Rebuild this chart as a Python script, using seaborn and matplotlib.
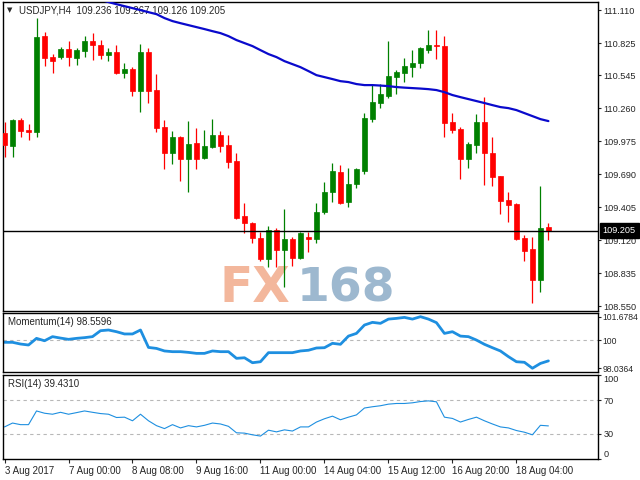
import numpy as np
import pandas as pd
import matplotlib
matplotlib.use("Agg")
import matplotlib.pyplot as plt
import seaborn as sns
from matplotlib.transforms import blended_transform_factory

# %% data (USDJPY H4 candles)
title_text = "USDJPY,H4  109.236 109.267 109.126 109.205"

opens = [110.047, 109.935, 110.160, 110.073, 110.056, 110.885, 110.704, 110.704, 110.773, 110.695,
         110.756, 110.842, 110.807, 110.721, 110.747, 110.566, 110.600, 110.410, 110.747, 110.419,
         110.099, 109.875, 110.013, 109.823, 109.961, 109.832, 109.927, 110.030, 109.944, 109.806,
         109.331, 109.270, 109.141, 108.959, 109.210, 109.037, 109.132, 108.968, 109.149, 109.132,
         109.365, 109.538, 109.711, 109.451, 109.607, 109.719, 110.168, 110.307, 110.367, 110.531,
         110.566, 110.617, 110.652, 110.764, 110.807, 110.799, 110.142, 110.082, 109.823, 109.944,
         110.142, 109.875, 109.676, 109.469, 109.434, 109.141, 109.046, 108.778, 109.236]
highs = [110.142, 110.168, 110.177, 110.125, 111.041, 110.920, 110.730, 110.790, 110.842, 110.781,
         110.885, 110.911, 110.851, 110.781, 110.807, 110.652, 110.617, 110.816, 110.781, 110.557,
         110.160, 110.065, 110.020, 110.151, 110.091, 110.073, 110.168, 110.065, 110.030, 109.875,
         109.443, 109.275, 109.192, 109.244, 109.227, 109.391, 109.149, 109.192, 109.192, 109.443,
         109.624, 109.788, 109.771, 109.745, 109.745, 110.220, 110.462, 110.471, 110.842, 110.591,
         110.695, 110.764, 110.790, 110.937, 110.937, 110.885, 110.220, 110.099, 109.970, 110.211,
         110.358, 110.013, 109.680, 109.538, 109.443, 109.167, 109.149, 109.590, 109.267]
lows = [109.840, 109.840, 110.013, 109.987, 110.013, 110.626, 110.566, 110.686, 110.626, 110.635,
        110.704, 110.678, 110.686, 110.669, 110.557, 110.522, 110.367, 110.229, 110.307, 110.056,
        109.737, 109.780, 109.633, 109.538, 109.737, 109.823, 109.920, 109.883, 109.745, 109.305,
        109.184, 109.098, 108.942, 108.891, 108.891, 108.717, 108.899, 108.959, 109.020, 109.098,
        109.348, 109.451, 109.434, 109.408, 109.572, 109.693, 110.142, 110.263, 110.350, 110.384,
        110.488, 110.531, 110.609, 110.738, 110.686, 110.013, 110.047, 109.650, 109.745, 109.875,
        109.598, 109.590, 109.348, 109.279, 109.123, 108.942, 108.579, 108.674, 109.126]
closes = [109.944, 110.160, 110.065, 110.056, 110.877, 110.695, 110.669, 110.773, 110.704, 110.764,
          110.842, 110.807, 110.721, 110.747, 110.566, 110.600, 110.410, 110.747, 110.410, 110.091,
          109.875, 110.013, 109.823, 109.952, 109.823, 109.935, 110.030, 109.935, 109.797, 109.313,
          109.270, 109.141, 108.959, 109.210, 109.037, 109.132, 108.968, 109.184, 109.132, 109.365,
          109.538, 109.719, 109.443, 109.607, 109.737, 110.177, 110.315, 110.384, 110.540, 110.574,
          110.626, 110.652, 110.781, 110.807, 110.799, 110.134, 110.073, 109.823, 109.952, 110.142,
          109.875, 109.667, 109.460, 109.426, 109.132, 109.028, 108.778, 109.227, 109.205]

# moving average (off the top of the chart for the first bars)
ma_values = [np.nan] * 12 + [
    111.200, 111.179, 111.161, 111.144, 111.127, 111.110, 111.092, 111.075, 111.041, 111.015,
    110.997, 110.980, 110.963, 110.946, 110.928, 110.911, 110.885, 110.851, 110.825, 110.799,
    110.764, 110.730, 110.704, 110.669, 110.643, 110.617, 110.583, 110.548, 110.531, 110.514,
    110.496, 110.488, 110.471, 110.462, 110.462, 110.458, 110.453, 110.445, 110.440, 110.436,
    110.432, 110.427, 110.419, 110.401, 110.376, 110.358, 110.341, 110.324, 110.307, 110.289,
    110.272, 110.263, 110.246, 110.220, 110.194, 110.168, 110.151]

momentum = [99.87, 99.87, 99.75, 99.68, 100.15, 99.98, 100.27, 100.17, 100.08, 100.15,
            100.20, 100.27, 100.69, 100.74, 100.62, 100.46, 100.46, 100.74, 99.51, 99.44,
            99.26, 99.21, 99.21, 99.16, 99.09, 99.09, 99.26, 99.21, 99.21, 98.74,
            98.78, 98.43, 98.50, 99.14, 99.14, 99.14, 99.14, 99.26, 99.31, 99.47,
            99.49, 99.80, 99.73, 100.31, 100.50, 101.09, 101.28, 101.21, 101.51, 101.56,
            101.63, 101.51, 101.68, 101.51, 101.26, 100.50, 100.62, 100.31, 100.27, 100.03,
            99.73, 99.49, 99.26, 98.86, 98.50, 98.46, 98.04, 98.38, 98.56]

rsi = [38.2, 42.8, 40.9, 40.9, 57.2, 54.5, 53.3, 55.6, 53.3, 55.2,
       57.2, 55.6, 54.1, 53.3, 49.4, 49.8, 45.5, 53.3, 45.5, 39.7,
       36.2, 40.9, 37.0, 39.7, 38.2, 40.1, 42.8, 41.7, 38.9, 31.2,
       30.8, 28.8, 27.3, 34.3, 32.3, 34.7, 33.3, 38.2, 38.2, 44.0,
       47.9, 51.0, 46.7, 49.8, 52.5, 60.7, 62.2, 63.4, 65.3, 66.1,
       66.1, 66.9, 68.4, 69.2, 68.1, 49.8, 48.3, 44.0, 47.1, 49.8,
       45.5, 41.7, 38.2, 37.0, 33.9, 31.9, 28.8, 40.1, 39.4]

price_ticks = [111.110, 110.825, 110.545, 110.260, 109.975, 109.690, 109.405, 109.120, 108.835, 108.550]
last_price = 109.205
momentum_ticks = [101.6784, 100, 98.0364]
momentum_tick_labels = ["101.6784", "100", "98.0364"]
rsi_ticks = [100, 70, 30, 0]
date_positions = [0, 8, 16, 24, 32, 40, 48, 56, 64]
date_labels = ["3 Aug 2017", "7 Aug 00:00", "8 Aug 08:00", "9 Aug 16:00", "11 Aug 00:00",
               "14 Aug 04:00", "15 Aug 12:00", "16 Aug 20:00", "18 Aug 04:00"]

# %%
df = pd.DataFrame({"open": opens, "high": highs, "low": lows, "close": closes,
                   "ma": ma_values, "mom": momentum, "rsi": rsi})
df["idx"] = np.arange(len(df))

sns.set_style("white")
plt.rcParams["font.family"] = ["Liberation Sans", "DejaVu Sans"]

fig = plt.figure(figsize=(6.4, 4.8), dpi=100)
left, width = 3 / 640, 595 / 640
ax = fig.add_axes([left, 1 - 311 / 480, width, 309 / 480])
ax_m = fig.add_axes([left, 1 - 372 / 480, width, 59 / 480])
ax_r = fig.add_axes([left, 1 - 459 / 480, width, 84 / 480])

GREEN, RED, BLUE = "#008000", "#ff0000", "#1e8fe0"
xlim = (-0.19, 74.2)
tick_kw = dict(axis="y", direction="out", length=2.5, width=0.8, labelsize=6.6, pad=1.5, right=True)

# %% main price panel
colors = np.where(df["close"] >= df["open"], GREEN, RED)
ax.vlines(df["idx"], df["low"], df["high"], colors=colors, lw=0.9, zorder=2)
body_bottom = np.minimum(df["open"], df["close"])
body_height = np.maximum((df["close"] - df["open"]).abs(), 0.009)
ax.bar(df["idx"], body_height, bottom=body_bottom, width=0.55, color=colors,
       edgecolor=colors, linewidth=0.5, zorder=3)
sns.lineplot(data=df.dropna(subset=["ma"]), x="idx", y="ma", ax=ax,
             color="#0a0acc", linewidth=1.6, zorder=4)
ax.axhline(last_price, color="black", lw=1, zorder=5)

ax.set_xlim(*xlim)
ax.set_ylim(108.51, 111.18)
ax.set_xticks([])
ax.yaxis.tick_right()
ax.set_yticks(price_ticks)
ax.set_yticklabels([f"{v:.3f}" for v in price_ticks])
ax.tick_params(**tick_kw)
ax.set_xlabel("")
ax.set_ylabel("")

bt = blended_transform_factory(ax.transAxes, ax.transData)
ax.text(1.008, last_price, f"{last_price:.3f}", transform=bt, ha="left", va="center",
        color="white", fontsize=6.6, zorder=6,
        bbox=dict(boxstyle="square,pad=0.3", fc="black", ec="black"))

ax.text(0.0118, 0.974, "\u25bc", transform=ax.transAxes, fontsize=5, ha="center",
        va="center", family=["DejaVu Sans"])
ax.text(0.027, 0.974, title_text, transform=ax.transAxes, fontsize=7, ha="left", va="center")

# watermark
ax.text(220 / 640, 1 - 302 / 480, "FX", transform=fig.transFigure, fontsize=35,
        fontweight="bold", color="#f3b79c", family=["DejaVu Sans"], va="baseline", zorder=0)
ax.text(297 / 640, 1 - 302 / 480, "168", transform=fig.transFigure, fontsize=34,
        fontweight="bold", color="#9db8cf", family=["DejaVu Sans"], va="baseline", zorder=0)

# %% momentum panel
sns.lineplot(data=df, x="idx", y="mom", ax=ax_m, color=BLUE, linewidth=2.0)
ax_m.axhline(100, color="#b8b8b8", lw=0.8, ls=(0, (3, 3)), zorder=1)
ax_m.set_xlim(*xlim)
ax_m.set_ylim(97.775, 101.94)
ax_m.set_xticks([])
ax_m.yaxis.tick_right()
ax_m.set_yticks(momentum_ticks)
ax_m.set_yticklabels(momentum_tick_labels)
ax_m.tick_params(**{**tick_kw, "labelsize": 6.2, "pad": 1})
ax_m.set_xlabel("")
ax_m.set_ylabel("")
ax_m.text(0.0084, 0.847, f"Momentum(14) {98.5596:.4f}", transform=ax_m.transAxes,
          fontsize=7, ha="left", va="center")

# %% RSI panel
sns.lineplot(data=df, x="idx", y="rsi", ax=ax_r, color=BLUE, linewidth=0.8)
for lvl in (70, 30):
    ax_r.axhline(lvl, color="#b8b8b8", lw=0.8, ls=(0, (3, 3)), zorder=1)
ax_r.set_xlim(*xlim)
ax_r.set_ylim(0, 100)
ax_r.yaxis.tick_right()
ax_r.set_yticks(rsi_ticks)
ax_r.set_yticklabels([str(v) for v in rsi_ticks])
ax_r.tick_params(**tick_kw)
labels = ax_r.get_yticklabels()
labels[0].set_va("top")
labels[-1].set_va("bottom")
ax_r.set_xticks(date_positions)
ax_r.set_xticklabels(date_labels, ha="left")
ax_r.tick_params(axis="x", direction="out", length=3, width=0.8, labelsize=7, pad=2, bottom=True)
ax_r.set_xlabel("")
ax_r.set_ylabel("")
ax_r.text(0.0084, 0.893, f"RSI(14) {39.4310:.4f}", transform=ax_r.transAxes,
          fontsize=7, ha="left", va="center")

for a in (ax, ax_m, ax_r):
    for s in a.spines.values():
        s.set_color("black")
        s.set_linewidth(1)

fig.savefig("out.png", dpi=100)
